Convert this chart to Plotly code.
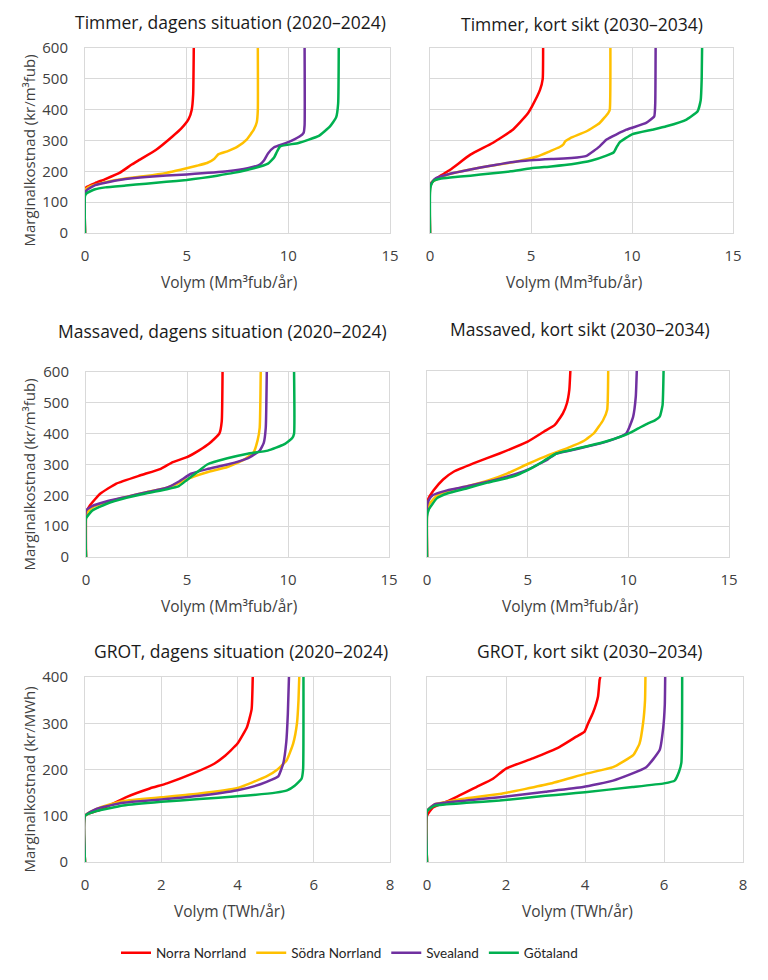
import plotly.graph_objects as go

# ---------------- data ----------------
regions = ["Norra Norrland", "Södra Norrland", "Svealand", "Götaland"]
colors = ["#FF0000", "#FFC000", "#7030A0", "#00B050"]

panel_titles = [
    "Timmer, dagens situation (2020–2024)",
    "Timmer, kort sikt (2030–2034)",
    "Massaved, dagens situation (2020–2024)",
    "Massaved, kort sikt (2030–2034)",
    "GROT, dagens situation (2020–2024)",
    "GROT, kort sikt (2030–2034)",
]
x_titles = ["Volym (Mm³fub/år)", "Volym (Mm³fub/år)", "Volym (TWh/år)"]
y_titles = ["Marginalkostnad (kr/m³fub)", "Marginalkostnad (kr/m³fub)", "Marginalkostnad (kr/MWh)"]
x_ticks_wood = [0, 5, 10, 15]
x_ticks_grot = [0, 2, 4, 6, 8]
y_ticks_wood = [0, 100, 200, 300, 400, 500, 600]
y_ticks_grot = [0, 100, 200, 300, 400]

# Timmer, dagens situation
tim_dag_norra_x = [0, 0, 0.1, 0.5, 1.0, 1.7, 2.3, 2.7, 3.5, 4.3, 4.75, 5.1, 5.25, 5.32, 5.35]
tim_dag_norra_y = [0, 140, 150, 162, 175, 195, 222, 238, 270, 313, 340, 370, 400, 450, 600]
tim_dag_sodra_x = [0, 0, 0.2, 1, 2, 3, 4, 4.7, 5.5, 6.0, 6.35, 6.55, 7.0, 7.5, 7.95, 8.3, 8.45, 8.5, 8.5]
tim_dag_sodra_y = [0, 140, 150, 165, 177, 185, 195, 205, 218, 227, 240, 255, 265, 280, 303, 335, 360, 400, 600]
tim_dag_svea_x = [0, 0, 0.1, 0.5, 1, 2, 3, 5, 7, 8, 8.6, 8.8, 9.0, 9.3, 9.9, 10.55, 10.75, 10.8, 10.8]
tim_dag_svea_y = [0, 130, 140, 155, 163, 175, 182, 190, 200, 210, 222, 235, 258, 278, 292, 313, 325, 350, 600]
tim_dag_gota_x = [0, 0, 0.1, 0.5, 1, 2, 3, 4, 5, 5.7, 6.5, 7.3, 8.3, 9.0, 9.3, 9.45, 9.6, 10.5, 11.5, 12.05, 12.35, 12.45, 12.48]
tim_dag_gota_y = [0, 120, 130, 142, 148, 154, 160, 166, 172, 178, 186, 195, 210, 225, 245, 265, 281, 292, 315, 346, 375, 420, 600]

# Timmer, kort sikt
tim_kort_norra_x = [0, 0, 0.1, 0.5, 1, 2, 3.1, 4.1, 4.8, 5.05, 5.45, 5.58, 5.6]
tim_kort_norra_y = [0, 155, 165, 185, 205, 254, 292, 335, 384, 411, 465, 500, 600]
tim_kort_sodra_x = [0, 0, 0.1, 0.5, 1, 2, 3, 4.3, 5.3, 5.93, 6.4, 6.6, 6.7, 6.95, 7.75, 8.4, 8.82, 8.9, 8.93]
tim_kort_sodra_y = [0, 145, 165, 180, 192, 206, 218, 232, 248, 265, 278, 287, 298, 308, 330, 357, 389, 400, 600]
tim_kort_svea_x = [0, 0, 0.1, 0.3, 1, 2, 3, 4.3, 6, 7.0, 7.75, 8.4, 8.74, 9.72, 10.7, 11.1, 11.15, 11.17]
tim_kort_svea_y = [0, 150, 165, 178, 192, 206, 218, 232, 240, 243, 250, 281, 303, 335, 357, 378, 420, 600]
tim_kort_gota_x = [0, 0, 0.05, 0.2, 0.5, 1, 2, 3, 4, 5, 6, 7, 8, 8.7, 9.1, 9.25, 9.4, 10, 11, 11.7, 12.7, 13.25, 13.4, 13.45, 13.47]
tim_kort_gota_y = [0, 130, 155, 170, 176, 180, 186, 193, 200, 210, 216, 223, 235, 250, 262, 280, 295, 320, 335, 346, 368, 395, 430, 500, 600]

# Massaved, dagens situation
mas_dag_norra_x = [0, 0, 0.05, 0.2, 0.7, 1.5, 2.7, 3.7, 4.3, 5.0, 5.6, 6.1, 6.6, 6.72, 6.76]
mas_dag_norra_y = [0, 130, 150, 168, 205, 238, 265, 286, 308, 324, 346, 368, 400, 440, 600]
mas_dag_sodra_x = [0, 0, 0.3, 1, 2, 3, 4, 4.6, 5.3, 6, 7, 7.8, 8.3, 8.5, 8.6, 8.65]
mas_dag_sodra_y = [0, 140, 160, 178, 195, 210, 225, 240, 260, 275, 292, 315, 340, 380, 420, 600]
mas_dag_svea_x = [0, 0, 0.3, 1, 2, 3, 4, 4.6, 5.2, 6, 7, 8, 8.6, 8.8, 8.9, 8.95]
mas_dag_svea_y = [0, 150, 165, 180, 195, 210, 225, 245, 270, 285, 300, 320, 345, 370, 420, 600]
mas_dag_gota_x = [0, 0, 0.3, 1, 2, 3, 4, 4.6, 5.0, 5.5, 6.0, 7, 8, 9, 9.8, 10.2, 10.3, 10.3]
mas_dag_gota_y = [0, 125, 150, 172, 192, 207, 220, 230, 250, 275, 300, 320, 335, 345, 365, 385, 400, 600]

# Massaved, kort sikt
mas_kort_norra_x = [0, 0, 0.05, 0.33, 0.8, 1.32, 2.3, 3.6, 5.0, 5.8, 6.35, 6.75, 6.95, 7.07, 7.12]
mas_kort_norra_y = [0, 165, 185, 215, 250, 275, 302, 334, 372, 404, 426, 463, 496, 540, 600]
mas_kort_sodra_x = [0, 0, 0.1, 0.5, 1, 2, 3, 4, 5, 6, 7, 7.8, 8.3, 8.75, 8.95, 9.0]
mas_kort_sodra_y = [0, 145, 170, 198, 212, 228, 246, 270, 300, 328, 352, 375, 400, 442, 475, 600]
mas_kort_svea_x = [0, 0, 0.1, 0.3, 1, 2, 3, 4, 5, 6, 6.4, 7, 8, 9, 9.9, 10.24, 10.37, 10.42]
mas_kort_svea_y = [0, 165, 185, 200, 215, 228, 243, 260, 282, 315, 333, 342, 357, 374, 399, 453, 517, 600]
mas_kort_gota_x = [0, 0, 0.1, 0.5, 1, 2, 3, 4, 4.5, 5, 5.5, 6, 6.4, 7, 8, 9, 10, 10.5, 11, 11.3, 11.56, 11.7, 11.75]
mas_kort_gota_y = [0, 130, 155, 190, 205, 222, 240, 255, 265, 280, 298, 318, 333, 343, 358, 375, 398, 415, 432, 440, 453, 490, 600]

# GROT, dagens situation
grot_dag_norra_x = [0, 0, 0.4, 1.1, 1.7, 2.15, 2.85, 3.4, 3.65, 4.0, 4.25, 4.37, 4.4]
grot_dag_norra_y = [0, 100, 113, 141, 159, 170, 192, 213, 228, 256, 292, 330, 400]
grot_dag_sodra_x = [0, 0, 0.4, 1, 2, 3, 4, 4.76, 5.03, 5.29, 5.46, 5.56, 5.6, 5.62]
grot_dag_sodra_y = [0, 100, 118, 132, 140, 148, 160, 185, 199, 220, 256, 300, 350, 400]
grot_dag_svea_x = [0, 0, 0.3, 1, 2, 3, 4, 4.6, 4.9, 5.07, 5.2, 5.28, 5.32, 5.35]
grot_dag_svea_y = [0, 100, 115, 128, 135, 143, 155, 168, 178, 185, 213, 260, 320, 400]
grot_dag_gota_x = [0, 0, 0.3, 1, 2, 3, 4, 5, 5.3, 5.5, 5.68, 5.72, 5.73]
grot_dag_gota_y = [0, 100, 110, 122, 130, 136, 142, 150, 155, 165, 180, 200, 400]

# GROT, kort sikt
grot_kort_norra_x = [0, 0, 0.15, 0.57, 1.25, 1.67, 2.0, 2.68, 3.36, 3.78, 3.99, 4.08, 4.2, 4.33, 4.37, 4.39]
grot_kort_norra_y = [0, 100, 118, 133, 162, 180, 202, 224, 249, 271, 282, 300, 322, 358, 394, 400]
grot_kort_sodra_x = [0, 0, 0.2, 0.5, 1, 1.84, 3.1, 4.03, 4.71, 5.22, 5.38, 5.47, 5.52, 5.53]
grot_kort_sodra_y = [0, 110, 125, 130, 138, 147, 169, 191, 205, 231, 256, 300, 350, 400]
grot_kort_svea_x = [0, 0, 0.2, 1, 1.84, 3, 3.95, 4.71, 5.55, 5.89, 5.98, 6.02, 6.03]
grot_kort_svea_y = [0, 110, 125, 133, 140, 152, 162, 176, 205, 242, 290, 340, 400]
grot_kort_gota_x = [0, 0, 0.2, 1, 1.84, 3, 3.53, 4, 5.2, 6.0, 6.27, 6.38, 6.44, 6.46]
grot_kort_gota_y = [0, 110, 122, 128, 133, 143, 147, 151, 162, 170, 176, 195, 215, 400]

panels_data = [
    [(tim_dag_norra_x, tim_dag_norra_y), (tim_dag_sodra_x, tim_dag_sodra_y),
     (tim_dag_svea_x, tim_dag_svea_y), (tim_dag_gota_x, tim_dag_gota_y)],
    [(tim_kort_norra_x, tim_kort_norra_y), (tim_kort_sodra_x, tim_kort_sodra_y),
     (tim_kort_svea_x, tim_kort_svea_y), (tim_kort_gota_x, tim_kort_gota_y)],
    [(mas_dag_norra_x, mas_dag_norra_y), (mas_dag_sodra_x, mas_dag_sodra_y),
     (mas_dag_svea_x, mas_dag_svea_y), (mas_dag_gota_x, mas_dag_gota_y)],
    [(mas_kort_norra_x, mas_kort_norra_y), (mas_kort_sodra_x, mas_kort_sodra_y),
     (mas_kort_svea_x, mas_kort_svea_y), (mas_kort_gota_x, mas_kort_gota_y)],
    [(grot_dag_norra_x, grot_dag_norra_y), (grot_dag_sodra_x, grot_dag_sodra_y),
     (grot_dag_svea_x, grot_dag_svea_y), (grot_dag_gota_x, grot_dag_gota_y)],
    [(grot_kort_norra_x, grot_kort_norra_y), (grot_kort_sodra_x, grot_kort_sodra_y),
     (grot_kort_svea_x, grot_kort_svea_y), (grot_kort_gota_x, grot_kort_gota_y)],
]

# ---------------- layout geometry (page pixels) ----------------
OFF = 8                      # default page body margin
W, H = 768 - 2 * OFF, 980 - 2 * OFF


def px(x):
    return (x - OFF) / W


def py(y):
    return 1 - (y - OFF) / H


# (x0, x1, ytop, ybottom) of each plot area, in page pixels
boxes = [
    (85, 390, 48, 233),
    (430, 733, 48, 233),
    (86, 389, 372, 557),
    (427, 729, 371, 557),
    (85, 390, 677, 862),
    (427, 743, 677, 862),
]
title_pos = [(230, 22), (582, 24), (222, 331), (580, 329), (241, 651), (589, 651)]

FONT = "Open Sans"
fig = go.Figure()
layout = dict(
    template="none",
    width=W, height=H, margin=dict(l=0, r=0, t=0, b=0, autoexpand=False),
    paper_bgcolor="white", plot_bgcolor="white",
    font=dict(family=FONT, color="#404040"),
    annotations=[],
)

for i, (box, pdata) in enumerate(zip(boxes, panels_data)):
    x0, x1, yt, yb = box
    row = i // 2
    left = (i % 2 == 0)
    xa = "xaxis" if i == 0 else f"xaxis{i+1}"
    ya = "yaxis" if i == 0 else f"yaxis{i+1}"
    xref = "x" if i == 0 else f"x{i+1}"
    yref = "y" if i == 0 else f"y{i+1}"
    xt = x_ticks_grot if row == 2 else x_ticks_wood
    ytk = y_ticks_grot if row == 2 else y_ticks_wood
    layout[xa] = dict(
        domain=[px(x0), px(x1)], anchor=yref, range=[0, xt[-1]],
        tickvals=xt, showgrid=True, gridcolor="#D9D9D9", gridwidth=1,
        showline=True, linecolor="#D9D9D9", mirror=True, zeroline=False,
        ticks="", ticklabelstandoff=9, tickfont=dict(size=15, color="#404040"),
        fixedrange=True, automargin=False,
    )
    layout[ya] = dict(
        domain=[py(yb), py(yt)], anchor=xref, range=[0, ytk[-1]],
        tickvals=ytk, showgrid=True, gridcolor="#D9D9D9", gridwidth=1,
        showline=True, linecolor="#D9D9D9", mirror=True, zeroline=False,
        ticks="", showticklabels=left, ticklabelstandoff=13,
        tickfont=dict(size=15, color="#404040"), fixedrange=True, automargin=False,
    )
    for j, (xs, ys) in enumerate(pdata):
        fig.add_trace(go.Scatter(
            x=xs, y=ys, mode="lines", name=regions[j],
            line=dict(color=colors[j], width=2.5, shape="spline", smoothing=0.4),
            xaxis=xref, yaxis=yref, showlegend=(i == 0), cliponaxis=False,
        ))
    # panel title
    tx, ty = title_pos[i]
    layout["annotations"].append(dict(
        text=panel_titles[i], x=px(tx), y=py(ty), xref="paper", yref="paper",
        showarrow=False, font=dict(size=17.5, color="#1a1a1a", family=FONT),
        xanchor="center", yanchor="middle",
    ))
    # x axis title
    layout["annotations"].append(dict(
        text=x_titles[row], x=px((x0 + x1) / 2 - 8), y=py(yb + 49),
        xref="paper", yref="paper", showarrow=False,
        font=dict(size=15.5, color="#404040", family=FONT),
        xanchor="center", yanchor="middle",
    ))
    if left:
        layout["annotations"].append(dict(
            text=y_titles[row], x=px(28), y=py((yt + yb) / 2 + 10),
            xref="paper", yref="paper", showarrow=False, textangle=-90,
            font=dict(size=15, color="#404040", family=FONT),
            xanchor="center", yanchor="middle",
        ))

layout["legend"] = dict(
    orientation="h", x=px(116), y=py(953), xanchor="left", yanchor="middle",
    font=dict(size=13.5, color="#262626", family="Lato"),
    tracegroupgap=0, bgcolor="rgba(0,0,0,0)",
)
fig.update_layout(**layout)
fig.write_html("out.html")
